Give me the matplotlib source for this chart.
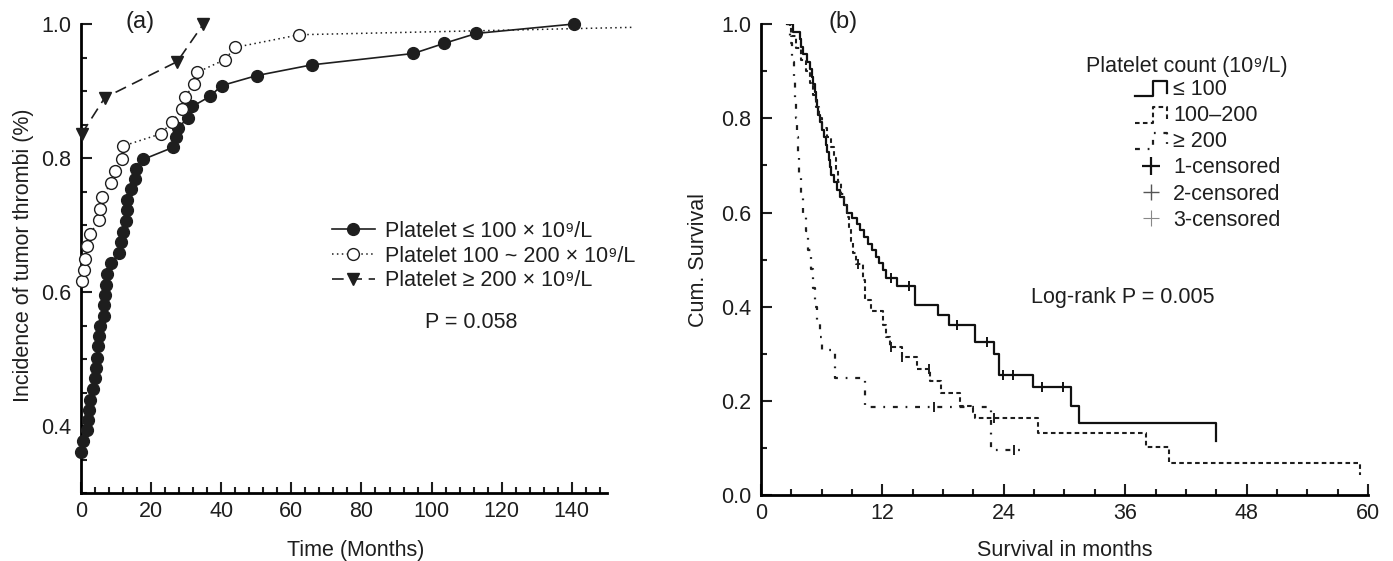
import matplotlib
matplotlib.use("agg")
import matplotlib.pyplot as plt
from matplotlib.ticker import MultipleLocator, FixedLocator, FormatStrFormatter
from matplotlib.legend_handler import HandlerBase
from matplotlib.lines import Line2D
import numpy as np

plt.rcParams['font.family'] = ['Liberation Sans', 'DejaVu Sans']

# ---- panel (a): incidence of tumor thrombi ----
low_t = [0.0, 0.7, 1.8, 2.1, 2.4, 2.6, 3.3, 4.0, 4.3, 4.6, 4.9, 5.2, 5.4, 6.5, 6.6, 6.8,
         7.1, 7.5, 8.7, 10.8, 11.3, 12.1, 12.8, 13.0, 13.2, 14.4, 15.4, 15.7, 17.8, 26.3,
         27.0, 27.6, 30.6, 31.8, 36.8, 40.1, 50.1, 65.8, 94.8, 103.5, 112.8, 140.6]
low_inc = [0.361, 0.378, 0.394, 0.409, 0.424, 0.439, 0.455, 0.471, 0.486, 0.502, 0.519,
           0.534, 0.549, 0.564, 0.580, 0.596, 0.611, 0.627, 0.643, 0.658, 0.674, 0.690,
           0.706, 0.722, 0.737, 0.753, 0.769, 0.784, 0.798, 0.816, 0.831, 0.845, 0.860,
           0.877, 0.892, 0.908, 0.923, 0.939, 0.956, 0.971, 0.986, 1.000]

mid_t = [0.2, 0.9, 1.1, 1.8, 2.6, 5.2, 5.4, 5.9, 8.7, 9.7, 11.6, 12.1, 22.7, 26.1, 28.7,
         29.7, 32.2, 33.2, 41.1, 43.9, 62.3, 157.0]
mid_inc = [0.616, 0.633, 0.650, 0.669, 0.687, 0.707, 0.724, 0.742, 0.763, 0.780, 0.799,
           0.818, 0.836, 0.854, 0.873, 0.891, 0.910, 0.928, 0.947, 0.965, 0.984, 0.995]

high_t = [0.2, 6.8, 27.5, 34.9]
high_inc = [0.836, 0.890, 0.944, 1.000]

# ---- panel (b): Kaplan-Meier survival ----
km1_t = [2.6, 3.2, 3.9, 4.0, 4.2, 4.5, 4.8, 5.0, 5.1, 5.3, 5.4, 5.5, 5.6, 5.8, 6.0, 6.2,
         6.4, 6.5, 6.7, 6.8, 6.9, 7.2, 7.5, 7.8, 8.2, 8.5, 9.0, 9.5, 9.8, 10.2, 10.6, 11.0,
         11.4, 11.7, 12.1, 12.4, 13.4, 15.2, 17.5, 18.6, 21.2, 23.0, 23.5, 26.9, 30.6,
         31.4, 45.0]
km1_s = [1.0, 0.984, 0.968, 0.952, 0.936, 0.920, 0.904, 0.888, 0.872, 0.856, 0.840, 0.824,
         0.808, 0.792, 0.776, 0.760, 0.744, 0.728, 0.712, 0.696, 0.680, 0.664, 0.648, 0.632,
         0.616, 0.600, 0.588, 0.576, 0.562, 0.548, 0.534, 0.520, 0.506, 0.492, 0.478, 0.462,
         0.444, 0.404, 0.382, 0.361, 0.326, 0.300, 0.255, 0.229, 0.189, 0.152, 0.115]
km1_cens = [12.9, 14.6, 19.4, 22.3, 23.9, 24.9, 27.8, 29.9]

km2_t = [2.6, 3.0, 3.5, 4.0, 4.4, 4.8, 5.1, 5.4, 5.7, 6.0, 6.5, 6.9, 7.2, 7.4, 7.6, 7.9,
         8.2, 8.5, 8.7, 8.9, 9.1, 9.4, 10.1, 10.3, 10.9, 12.1, 12.4, 12.8, 13.9, 15.4, 16.7,
         17.8, 19.7, 21.0, 21.2, 27.4, 38.1, 40.3, 59.2]
km2_s = [1.0, 0.975, 0.95, 0.925, 0.90, 0.875, 0.85, 0.825, 0.80, 0.78, 0.76, 0.74, 0.715,
         0.69, 0.665, 0.64, 0.615, 0.59, 0.565, 0.54, 0.515, 0.49, 0.457, 0.414, 0.390,
         0.361, 0.336, 0.315, 0.293, 0.268, 0.243, 0.216, 0.190, 0.177, 0.163, 0.132, 0.101,
         0.069, 0.042]
km2_cens = [9.6, 12.9, 13.9, 16.6, 23.0]

km3_t = [2.6, 2.9, 3.1, 3.3, 3.4, 3.5, 3.6, 3.7, 3.8, 4.0, 4.2, 4.4, 4.6, 4.9, 5.1, 5.3,
         5.5, 5.8, 6.0, 7.3, 10.3, 22.7, 25.6]
km3_s = [1.0, 0.96, 0.92, 0.88, 0.84, 0.80, 0.76, 0.72, 0.68, 0.64, 0.60, 0.56, 0.52, 0.48,
         0.44, 0.40, 0.365, 0.336, 0.308, 0.248, 0.188, 0.096, 0.096]
km3_cens = [17.1, 25.0]

INK = '#1e1e1e'


def style(ax):
    for s in ['top', 'right']:
        ax.spines[s].set_visible(False)
    for s in ['left', 'bottom']:
        ax.spines[s].set_linewidth(2)
    ax.tick_params(which='both', direction='in', width=1.5, labelsize=15.5, colors=INK)
    ax.tick_params(which='major', length=8)
    ax.tick_params(which='minor', length=4.5)
    ax.tick_params(axis='y', pad=7)
    ax.tick_params(axis='x', pad=6)


def surv_at(times, surv, ts):
    idx = np.searchsorted(times, ts, side='right') - 1
    return [surv[i] for i in idx]


class StepHandler(HandlerBase):
    def create_artists(self, legend, orig_handle, xdescent, ydescent, width, height, fontsize, trans):
        x0, y0 = -xdescent, -ydescent
        xs = [x0, x0 + 0.55 * width, x0 + 0.55 * width, x0 + width, x0 + width]
        ys = [y0 - 0.1 * height, y0 - 0.1 * height, y0 + 0.95 * height, y0 + 0.95 * height,
              y0 + 0.1 * height]
        ln = Line2D(xs, ys)
        self.update_prop(ln, orig_handle, legend)
        ln.set_transform(trans)
        return [ln]


fig = plt.figure(figsize=(13.93, 5.61), dpi=100)
axa = fig.add_axes([0.0581, 0.1212, 0.3776, 0.836])
axb = fig.add_axes([0.5463, 0.1176, 0.4357, 0.8392])

# panel (a)
l1, = axa.plot(low_t, low_inc, color=INK, lw=1.2, marker='o', ms=8.5,
               mfc=INK, mec=INK, clip_on=False, zorder=3)
l2, = axa.plot(mid_t, mid_inc, color=INK, lw=1.1, ls=(0, (1, 2.2)), marker='o', ms=8.5,
               mfc='white', mec=INK, mew=1.0, clip_on=False,
               markevery=list(range(len(mid_t) - 1)), zorder=4)
l3, = axa.plot(high_t, high_inc, color=INK, lw=1.2, ls=(0, (7, 4)), marker='v', ms=8.5,
               mfc=INK, mec=INK, clip_on=False, zorder=3)

axa.set_xlim(0, 150)
axa.set_ylim(0.3, 1.0)
axa.xaxis.set_major_locator(MultipleLocator(20))
axa.xaxis.set_minor_locator(MultipleLocator(4))
axa.yaxis.set_major_locator(FixedLocator([0.4, 0.6, 0.8, 1.0]))
axa.yaxis.set_minor_locator(MultipleLocator(0.05))
axa.yaxis.set_major_formatter(FormatStrFormatter('%.1f'))
style(axa)
axa.set_xlabel('Time (Months)', fontsize=15.5, color=INK)
axa.set_ylabel('Incidence of tumor thrombi (%)', fontsize=15.5, color=INK)
axa.xaxis.set_label_coords(0.523, -0.1)
axa.yaxis.set_label_coords(-0.09, 0.507)
axa.text(0.112, 1.004, '(a)', transform=axa.transAxes, fontsize=17, ha='center', va='center',
         color=INK)
axa.legend([l1, l2, l3],
           ['Platelet ≤ 100 × 10⁹/L', 'Platelet 100 ~ 200 × 10⁹/L', 'Platelet ≥ 200 × 10⁹/L'],
           loc='upper left', bbox_to_anchor=(0.477, 0.58), frameon=False, fontsize=15.5,
           handlelength=2.0, handletextpad=0.45, labelspacing=0.17, borderpad=0,
           borderaxespad=0, labelcolor=INK)
axa.text(0.741, 0.363, 'P = 0.058', transform=axa.transAxes, fontsize=15.5, ha='center',
         va='center', color=INK)

# panel (b)
s1, = axb.step(km1_t, km1_s, where='post', color='#111111', lw=1.6)
s2, = axb.step(km2_t, km2_s, where='post', color=INK, lw=1.5, dashes=(2.2, 1.6))
s3, = axb.step(km3_t, km3_s, where='post', color=INK, lw=1.6, dashes=(2.2, 3.5, 0.8, 3.5))
axb.plot(km1_cens, surv_at(km1_t, km1_s, km1_cens), ls='none', marker='|', ms=7, mew=1.4,
         color='#111111')
axb.plot(km2_cens, surv_at(km2_t, km2_s, km2_cens), ls='none', marker='|', ms=7, mew=1.4,
         color=INK)
axb.plot(km3_cens, surv_at(km3_t, km3_s, km3_cens), ls='none', marker='|', ms=7, mew=1.4,
         color=INK)

axb.set_xlim(0, 60)
axb.set_ylim(0, 1.0)
axb.xaxis.set_major_locator(MultipleLocator(12))
axb.xaxis.set_minor_locator(MultipleLocator(3))
axb.yaxis.set_major_locator(MultipleLocator(0.2))
axb.yaxis.set_minor_locator(MultipleLocator(0.1))
axb.yaxis.set_major_formatter(FormatStrFormatter('%.1f'))
style(axb)
axb.set_xlabel('Survival in months', fontsize=15.5, color=INK)
axb.set_ylabel('Cum. Survival', fontsize=15.5, color=INK)
axb.xaxis.set_label_coords(0.50, -0.095)
axb.yaxis.set_label_coords(-0.086, 0.5)
axb.text(0.135, 1.004, '(b)', transform=axb.transAxes, fontsize=17, ha='center', va='center',
         color=INK)

c1 = Line2D([], [], ls='none', marker='+', ms=13, mew=1.6, color='#111111')
c2 = Line2D([], [], ls='none', marker='+', ms=11, mew=1.0, color='#555555')
c3 = Line2D([], [], ls='none', marker='+', ms=11, mew=0.8, color='#888888')
axb.legend([s1, s2, s3, c1, c2, c3],
           ['≤ 100', '100–200', '≥ 200', '1-censored', '2-censored', '3-censored'],
           handler_map={s1: StepHandler(), s2: StepHandler(), s3: StepHandler()},
           loc='upper left', bbox_to_anchor=(0.617, 0.884), frameon=False, fontsize=15.5,
           handlelength=1.45, handletextpad=0.3, labelspacing=0.24, borderpad=0,
           borderaxespad=0, labelcolor=INK)
axb.text(0.702, 0.91, 'Platelet count (10⁹/L)', transform=axb.transAxes, fontsize=15.5,
         ha='center', va='center', color=INK)
axb.text(0.596, 0.42, 'Log-rank P = 0.005', transform=axb.transAxes, fontsize=15.5,
         ha='center', va='center', color=INK)

fig.savefig('out.png', dpi=100)
